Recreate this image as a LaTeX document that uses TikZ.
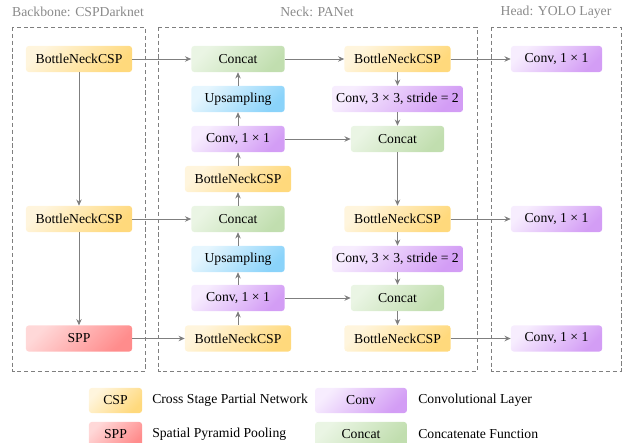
\documentclass[tikz,border=0pt]{standalone}
\usepackage{fontspec}
\setmainfont{Liberation Serif}
\usepackage{tikz}
\usetikzlibrary{arrows.meta}

\definecolor{cspLight}{HTML}{FFF5DD}
\definecolor{cspDark}{HTML}{FFD97C}
\definecolor{sppLight}{HTML}{FFD8D8}
\definecolor{sppDark}{HTML}{FF8C8C}
\definecolor{catLight}{HTML}{EAF5E4}
\definecolor{catDark}{HTML}{C1DEAF}
\definecolor{upLight}{HTML}{E6F6FE}
\definecolor{upDark}{HTML}{8AD3FA}
\definecolor{convLight}{HTML}{F7EDFE}
\definecolor{convDark}{HTML}{D39DF5}
\definecolor{lineGray}{HTML}{7F7F7F}
\definecolor{titleGray}{HTML}{8A8A8A}

\tikzset{
	block/.style = {rounded corners=2pt, minimum height=19pt, inner xsep=3pt, minimum width=68pt},
	csp/.style = {block, left color=cspLight, right color=cspDark, shading angle=45, minimum width=77.4pt},
	spp/.style = {block, left color=sppLight, right color=sppDark, shading angle=45, minimum width=77.4pt},
	concat/.style = {block, left color=catLight, right color=catDark, shading angle=45},
	upsample/.style = {block, left color=upLight, right color=upDark, shading angle=45},
	conv/.style = {block, left color=convLight, right color=convDark, shading angle=45},
	link/.style = {draw=lineGray, line width=0.6pt, -{Stealth[length=4.5pt, width=4pt]}},
	stagebox/.style = {draw=lineGray, line width=0.6pt, dash pattern=on 3pt off 2pt},
	stagetitle/.style = {text=titleGray},
}

\begin{document}
\begin{tikzpicture}[x=0.73pt, y=-0.73pt]
	\clip (0,0) rectangle (623,443);

	\def\bb{79}
	\def\nl{238}
	\def\nr{397.5}
	\def\hd{556.5}

	\draw[stagebox] (12,27) rectangle (145,371);
	\draw[stagebox] (158,27) rectangle (477,371);
	\draw[stagebox] (491,27) rectangle (621,371);
	\node[stagetitle] (tbb) at (78,12) {Backbone: CSPDarknet};
	\node[stagetitle] (tneck) at (317,12) {Neck: PANet};
	\node[stagetitle] (thead) at (556,12) {Head: YOLO Layer};

	\node[csp] (bbone1) at (\bb,59) {BottleNeckCSP};
	\node[csp] (bbone2) at (\bb,219) {BottleNeckCSP};
	\node[spp] (spp) at (\bb,338.5) {SPP};

	\node[concat] (cat1) at (\nl,59) {Concat};
	\node[upsample] (up1) at (\nl,99) {Upsampling};
	\node[conv] (conv1) at (\nl,139) {Conv, 1 × 1};
	\node[csp] (neckcsp1) at (\nl,179) {BottleNeckCSP};
	\node[concat] (cat2) at (\nl,219) {Concat};
	\node[upsample] (up2) at (\nl,259) {Upsampling};
	\node[conv] (conv2) at (\nl,298) {Conv, 1 × 1};
	\node[csp] (neckcsp2) at (\nl,338.5) {BottleNeckCSP};

	\node[csp] (pancsp1) at (\nr,59) {BottleNeckCSP};
	\node[conv, minimum width=95.6pt] (down1) at (\nr,99) {Conv, 3 × 3, stride = 2};
	\node[concat] (cat3) at (\nr,139) {Concat};
	\node[csp] (pancsp2) at (\nr,219) {BottleNeckCSP};
	\node[conv, minimum width=95.6pt] (down2) at (\nr,259) {Conv, 3 × 3, stride = 2};
	\node[concat] (cat4) at (\nr,298) {Concat};
	\node[csp] (pancsp3) at (\nr,338.5) {BottleNeckCSP};

	\node[conv, minimum width=66.5pt] (head1) at (\hd,59) {Conv, 1 × 1};
	\node[conv, minimum width=66.5pt] (head2) at (\hd,219) {Conv, 1 × 1};
	\node[conv, minimum width=66.5pt] (head3) at (\hd,338.5) {Conv, 1 × 1};

	\draw[link] (bbone1) -- (bbone2);
	\draw[link] (bbone2) -- (spp);
	\draw[link] (bbone1) -- (cat1);
	\draw[link] (bbone2) -- (cat2);
	\draw[link] (spp) -- (neckcsp2);

	\draw[link] (neckcsp2) -- (conv2);
	\draw[link] (conv2) -- (up2);
	\draw[link] (up2) -- (cat2);
	\draw[link] (cat2) -- (neckcsp1);
	\draw[link] (neckcsp1) -- (conv1);
	\draw[link] (conv1) -- (up1);
	\draw[link] (up1) -- (cat1);

	\draw[link] (cat1) -- (pancsp1);
	\draw[link] (pancsp1) -- (down1);
	\draw[link] (down1) -- (cat3);
	\draw[link] (conv1) -- (cat3);
	\draw[link] (cat3) -- (pancsp2);
	\draw[link] (pancsp2) -- (down2);
	\draw[link] (down2) -- (cat4);
	\draw[link] (conv2) -- (cat4);
	\draw[link] (cat4) -- (pancsp3);

	\draw[link] (pancsp1) -- (head1);
	\draw[link] (pancsp2) -- (head2);
	\draw[link] (pancsp3) -- (head3);

	\node[csp, minimum width=38.7pt, minimum height=18.3pt] (keycsp) at (115.5,400.5) {CSP};
	\node[anchor=west, inner xsep=0pt] (keycsptext) at (152,400.5) {Cross Stage Partial Network};
	\node[spp, minimum width=38.7pt, minimum height=18.3pt] (keyspp) at (115.5,434.5) {SPP};
	\node[anchor=west, inner xsep=0pt] (keyspptext) at (152,434.5) {Spatial Pyramid Pooling};
	\node[conv, minimum width=67pt, minimum height=18.3pt] (keyconv) at (361,400.5) {Conv};
	\node[anchor=west, inner xsep=0pt] (keyconvtext) at (418,400.5) {Convolutional Layer};
	\node[concat, minimum width=67pt, minimum height=18.3pt] (keycat) at (361,434.5) {Concat};
	\node[anchor=west, inner xsep=0pt] (keycattext) at (418,434.5) {Concatenate Function};
\end{tikzpicture}
\end{document}
